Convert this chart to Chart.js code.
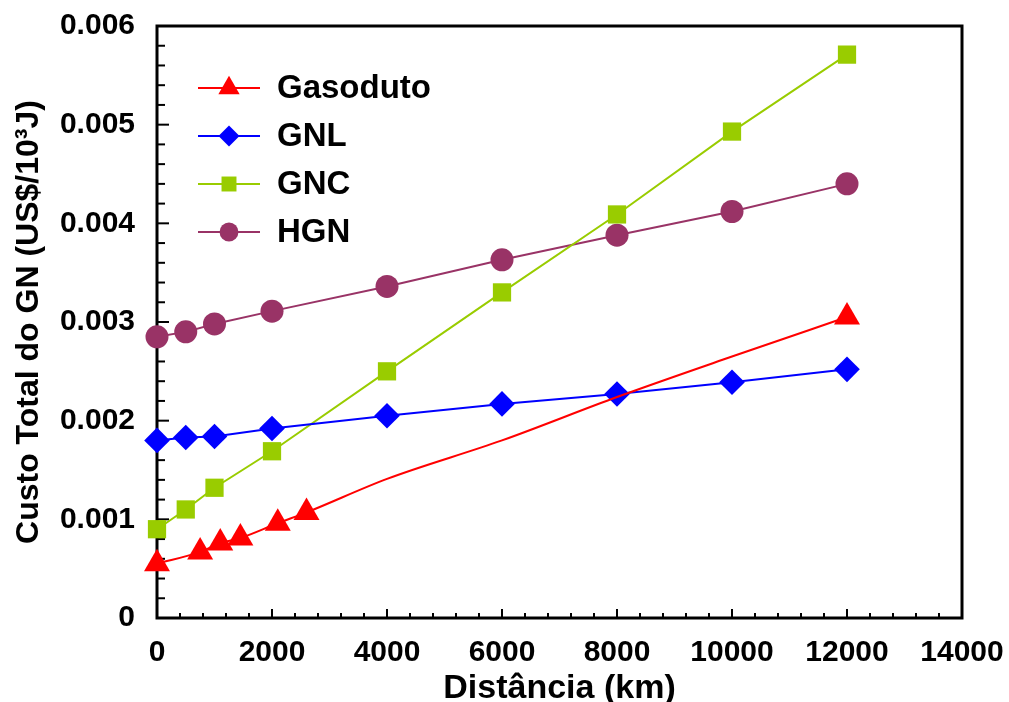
<!DOCTYPE html>
<html>
<head>
<meta charset="utf-8">
<script src="https://cdn.jsdelivr.net/npm/chart.js@4.4.0/dist/chart.umd.min.js"></script>
<style>
  html, body { margin: 0; padding: 0; background: #fff; }
  #wrap { width: 1009px; height: 702px; }
</style>
</head>
<body>
<div id="wrap"><canvas id="c" width="1009" height="702"></canvas></div>
<script>
// distancias (km) e custos (US$/10^3 J)
var distGasoduto = [0, 750, 1100, 1450, 2100, 2600, 4000, 6000, 8000, 10000, 12000]
var custoGasoduto = [0.00055, 0.00067, 0.00076, 0.00081, 0.00096, 0.00107, 0.00141, 0.0018, 0.00224, 0.00265, 0.00305]
var marcaGasoduto = [1, 1, 1, 1, 1, 1, 0, 0, 0, 0, 1]   // trecho longo sem marcadores

var dist = [0, 500, 1000, 2000, 4000, 6000, 8000, 10000, 12000]
var custoGNL = [0.0018, 0.00183, 0.00184, 0.00192, 0.00205, 0.00217, 0.00227, 0.00239, 0.00252]
var custoGNC = [0.0009, 0.0011, 0.00132, 0.00169, 0.0025, 0.0033, 0.00409, 0.00493, 0.00571]
var custoHGN = [0.00285, 0.0029, 0.00298, 0.00311, 0.00336, 0.00363, 0.00388, 0.00412, 0.0044]

var xMajor = [0, 2000, 4000, 6000, 8000, 10000, 12000, 14000]
var yMajor = ['0', '0.001', '0.002', '0.003', '0.004', '0.005', '0.006']

var F = "'Liberation Sans', Arial, Helvetica, sans-serif"
Chart.defaults.font.family = F

function pares(xs, ys) {
  return xs.map(function(x, i) { return {x: x, y: ys[i]} })
}

function serie(label, xs, ys, cor, estilo, raio) {
  return {
    label: label,
    data: pares(xs, ys),
    borderColor: cor,
    backgroundColor: cor,
    borderWidth: 2,
    pointStyle: estilo,
    pointRadius: raio,
    pointBorderWidth: 0,
    pointBackgroundColor: cor,
    tension: 0,
    clip: false
  }
}

var gas = serie('Gasoduto', distGasoduto, custoGasoduto, '#ff0000', 'triangle', marcaGasoduto.map(function(m) { return m ? 15 : 0 }))
gas.cubicInterpolationMode = 'monotone'

var datasets = [
  gas,
  serie('GNL', dist, custoGNL, '#0000ff', 'rectRot', 12.8),
  serie('GNC', dist, custoGNC, '#99cc00', 'rect', 12.9),
  serie('HGN', dist, custoHGN, '#993366', 'circle', 11.5)
]

// moldura e marcas de escala para dentro
var moldura = {
  id: 'moldura',
  beforeDatasetsDraw: function(chart) {
    var ctx = chart.ctx, a = chart.chartArea
    var xs = chart.scales.x, ys = chart.scales.y
    ctx.save()
    ctx.strokeStyle = '#000'
    ctx.lineWidth = 2
    xs.ticks.forEach(function(t) {
      var px = xs.getPixelForValue(t.value)
      var len = xMajor.indexOf(t.value) >= 0 ? 9 : 5
      ctx.beginPath(); ctx.moveTo(px, a.bottom); ctx.lineTo(px, a.bottom - len); ctx.stroke()
    })
    ys.ticks.forEach(function(t) {
      var py = ys.getPixelForValue(t.value)
      var len = t.label !== '' ? 12 : 8
      ctx.beginPath(); ctx.moveTo(a.left, py); ctx.lineTo(a.left + len, py); ctx.stroke()
    })
    ctx.lineWidth = 3
    ctx.strokeRect(a.left, a.top, a.right - a.left, a.bottom - a.top)
    ctx.restore()
  }
}

// legenda dentro da area do grafico
var legenda = {
  id: 'legenda',
  afterDraw: function(chart) {
    var ctx = chart.ctx, a = chart.chartArea
    ctx.save()
    chart.data.datasets.forEach(function(ds, i) {
      var x0 = a.left + 41, y = a.top + 62 + i * 48
      ctx.strokeStyle = ds.borderColor
      ctx.lineWidth = 2
      ctx.beginPath(); ctx.moveTo(x0, y); ctx.lineTo(x0 + 62, y); ctx.stroke()
      ctx.fillStyle = ds.borderColor
      var r = Array.isArray(ds.pointRadius) ? 15 : ds.pointRadius
      Chart.helpers.drawPoint(ctx, {radius: r * 0.82, pointStyle: ds.pointStyle, rotation: 0, borderWidth: 0}, x0 + 31, y)
      ctx.fillStyle = '#000'
      ctx.font = 'bold 33px ' + F
      ctx.textBaseline = 'middle'
      ctx.textAlign = 'left'
      ctx.fillText(ds.label, x0 + 79, y + 1)
    })
    ctx.restore()
  }
}

new Chart(document.getElementById('c'), {
  type: 'line',
  data: {datasets: datasets},
  options: {
    responsive: false,
    animation: false,
    layout: {padding: {top: 26, right: 47, left: 0, bottom: 0}},
    plugins: {legend: {display: false}, tooltip: {enabled: false}},
    scales: {
      x: {
        type: 'linear', min: 0, max: 14000,
        grid: {display: false},
        border: {display: false},
        ticks: {
          stepSize: 400, autoSkip: false, maxRotation: 0, padding: 9,
          color: '#000', font: {size: 30, weight: 'bold'},
          callback: function(v) { return xMajor.indexOf(v) >= 0 ? String(v) : '' }
        },
        title: {display: true, text: 'Distância (km)', color: '#000', padding: 0,
                font: {size: 34, weight: 'bold', lineHeight: 0.8}},
        afterFit: function(s) { s.height = 702 - 618; s.paddingLeft = 0; s.paddingRight = 0 }
      },
      y: {
        min: 0, max: 0.006,
        grid: {display: false},
        border: {display: false},
        ticks: {
          stepSize: 0.0002, autoSkip: false, padding: 14,
          color: '#000', font: {size: 30, weight: 'bold'},
          callback: function(v) {
            var k = Math.round(v * 1000)
            return Math.abs(v * 1000 - k) < 1e-6 ? yMajor[k] : ''
          }
        },
        title: {display: true, text: 'Custo Total do GN (US$/10³J)', color: '#000',
                padding: {top: 10, bottom: 0}, font: {size: 32, weight: 'bold'}},
        afterFit: function(s) { s.width = 157; s.paddingTop = 0; s.paddingBottom = 0 }
      }
    }
  },
  plugins: [moldura, legenda]
})
</script>
</body>
</html>
